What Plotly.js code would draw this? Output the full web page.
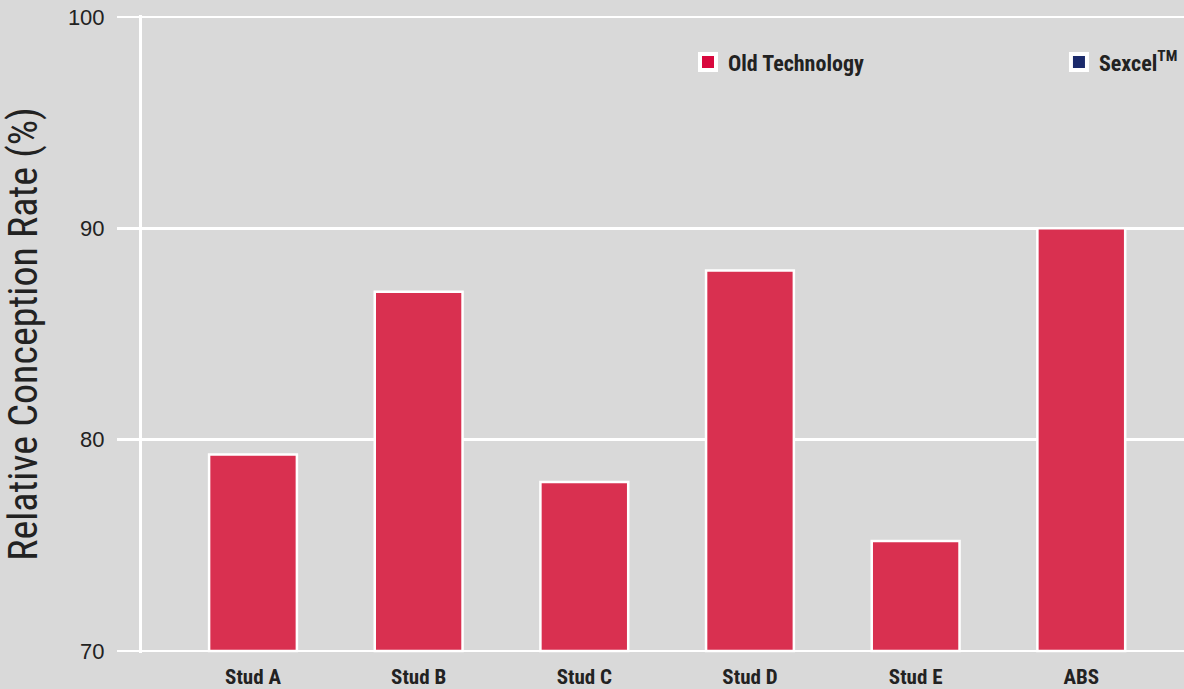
<!DOCTYPE html>
<html><head><meta charset="utf-8">
<script src="https://cdn.plot.ly/plotly-3.0.1.min.js"></script>
<style>html,body{margin:0;padding:0;background:#d9d9d9;}#chart{width:1184px;height:689px;}</style>
</head><body><div id="chart"></div>
<script>
const categories = ["Stud A", "Stud B", "Stud C", "Stud D", "Stud E", "ABS"];
const oldTechnology = [79.3, 87.0, 78.0, 88.0, 75.2, 90.0];
const sexcel = [null, null, null, null, null, null];
const yTicks = [70, 80, 90, 100];

const idx = categories.map((c, i) => i);
const condensed = '"Roboto Condensed", "DejaVu Sans Condensed", sans-serif';

const traces = [
  {type: 'bar', x: idx, y: oldTechnology.map(v => v - 70), base: 70, width: 0.53,
   marker: {color: '#d93050', line: {color: '#ffffff', width: 2.5}},
   legendgroup: 'old', showlegend: false, hoverinfo: 'skip', name: 'Old Technology'},
  {type: 'bar', x: idx, y: sexcel, base: 70, width: 0.53,
   marker: {color: '#1b2a6b', line: {color: '#ffffff', width: 2.5}},
   legendgroup: 'sex', showlegend: false, name: 'Sexcel™'},
  {type: 'scatter', mode: 'markers', x: [null], y: [null], name: 'Old Technology', legendgroup: 'old',
   legend: 'legend',
   marker: {symbol: 'square', size: 16, color: '#d8083d', line: {color: '#ffffff', width: 4}}},
  {type: 'scatter', mode: 'markers', x: [null], y: [null], name: 'Sexcel<sup>TM</sup>', legendgroup: 'sex',
   legend: 'legend2',
   marker: {symbol: 'square', size: 16, color: '#1b2a6b', line: {color: '#ffffff', width: 4}}}
];

const legendFont = {family: condensed, size: 22, color: '#222222', weight: 'bold'};
const layout = {
  width: 1184, height: 689,
  paper_bgcolor: '#d9d9d9', plot_bgcolor: '#d9d9d9',
  margin: {l: 142, r: 0, t: 15, b: 36},
  barmode: 'overlay',
  showlegend: true,
  legend: {orientation: 'h', x: 0.524, y: 0.926, xanchor: 'left', yanchor: 'middle',
           bgcolor: 'rgba(0,0,0,0)', font: legendFont},
  legend2: {orientation: 'h', x: 0.88, y: 0.926, xanchor: 'left', yanchor: 'middle',
           bgcolor: 'rgba(0,0,0,0)', font: legendFont},
  xaxis: {tickvals: idx, ticktext: categories, range: [-0.67, 5.62],
          showgrid: false, zeroline: false, showline: false, ticks: '',
          ticklabelstandoff: 9,
          tickfont: {family: condensed, size: 21, color: '#222222', weight: 'bold'}, fixedrange: true},
  yaxis: {range: [69.9, 100.1], tickvals: yTicks, ticktext: yTicks.map(String),
          showgrid: true, gridcolor: '#ffffff', gridwidth: 2.5, zeroline: false,
          showline: true, linecolor: '#ffffff', linewidth: 3,
          ticks: 'outside', ticklen: 22, tickcolor: '#ffffff', tickwidth: 2.5,
          ticklabelstandoff: 8,
          tickfont: {family: 'Liberation Sans, Arial, sans-serif', size: 22, color: '#222222'},
          title: {text: 'Relative Conception Rate (%)', standoff: 32,
                  font: {family: condensed, size: 40, color: '#222222'}}, fixedrange: true}
};
Plotly.newPlot('chart', traces, layout, {displayModeBar: false, staticPlot: true});
</script></body></html>
